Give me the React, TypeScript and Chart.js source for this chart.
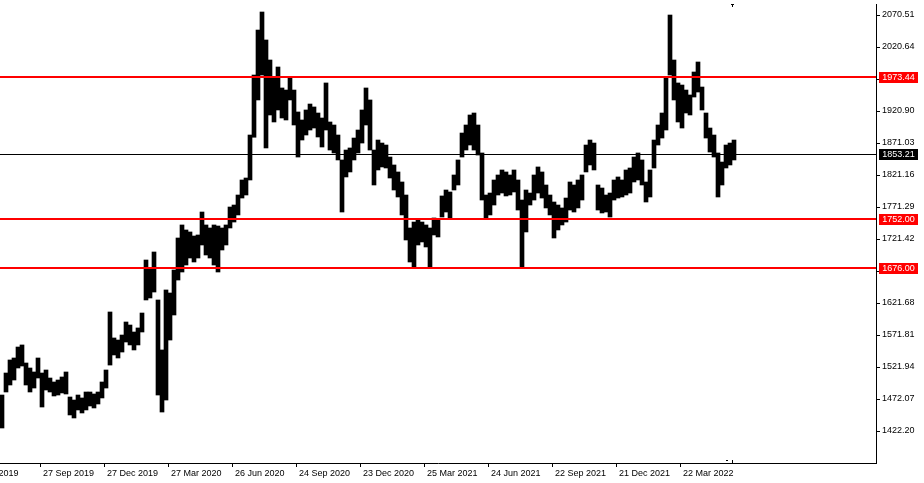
import React, { useEffect, useRef } from "react";
import { Chart, registerables } from "chart.js";

Chart.register(...registerables);

// Price bars (4 trading days per bar)
const barHigh = [
  1478.3, 1512.6, 1532.9, 1536.0, 1553.1, 1556.3, 1528.2, 1520.4, 1514.2, 1536.0,
  1512.6, 1517.3, 1504.8, 1498.6, 1501.7, 1506.4, 1514.2, 1475.2, 1470.5, 1478.3,
  1473.7, 1483.0, 1483.0, 1479.9, 1483.0, 1498.6, 1517.3, 1607.7, 1567.2, 1564.0,
  1571.8, 1592.1, 1587.4, 1576.5, 1582.8, 1606.1, 1688.7, 1676.3, 1701.2, 1626.4,
  1548.5, 1642.0, 1637.3, 1673.1, 1723.0, 1743.3, 1735.5, 1732.4, 1726.1, 1727.7,
  1763.5, 1743.3, 1738.6, 1743.3, 1741.7, 1738.6, 1743.3, 1771.3, 1774.4, 1790.0,
  1813.4, 1816.5, 1883.5, 1977.0, 2047.1, 2075.2, 2031.6, 2000.4, 1972.3, 1989.5,
  1956.8, 1953.6, 1972.3, 1953.6, 1919.4, 1906.9, 1922.5, 1931.8, 1927.2, 1917.8,
  1910.0, 1964.6, 1903.8, 1899.1, 1883.5, 1844.6, 1860.1, 1863.3, 1878.8, 1891.3,
  1922.5, 1956.8, 1938.1, 1860.1, 1875.7, 1871.0, 1867.9, 1849.2, 1836.8, 1825.9,
  1810.3, 1790.0, 1738.6, 1747.9, 1751.1, 1747.9, 1743.3, 1738.6, 1754.2, 1751.1,
  1788.5, 1797.8, 1794.7, 1821.2, 1844.6, 1886.6, 1899.1, 1914.7, 1917.8, 1899.1,
  1855.5, 1790.0, 1793.1, 1813.4, 1821.2, 1829.0, 1825.9, 1821.2, 1829.0, 1813.4,
  1782.2, 1797.8, 1793.1, 1821.2, 1833.7, 1825.9, 1805.6, 1790.0, 1779.1, 1774.4,
  1769.8, 1785.3, 1810.3, 1805.6, 1813.4, 1821.2, 1867.9, 1875.7, 1871.0, 1805.6,
  1800.9, 1790.0, 1793.1, 1813.4, 1818.1, 1813.4, 1829.0, 1832.1, 1849.2, 1855.5,
  1844.6, 1810.3, 1829.0, 1875.7, 1899.1, 1917.8, 1973.9, 2070.5, 2000.4, 1964.6,
  1961.4, 1953.6, 1945.9, 1981.7, 1997.3, 1958.3, 1917.8, 1894.4, 1883.5, 1855.5,
  1841.4, 1867.9, 1871.0, 1875.7,
];
const barLow = [
  1426.9, 1483.0, 1493.9, 1501.7, 1520.4, 1523.5, 1493.9, 1483.0, 1489.2, 1504.8,
  1459.6, 1486.1, 1483.0, 1476.8, 1478.3, 1481.5, 1479.9, 1447.2, 1442.5, 1455.0,
  1450.3, 1455.0, 1461.2, 1458.1, 1464.3, 1473.7, 1489.2, 1525.0, 1540.7, 1536.0,
  1545.3, 1560.9, 1556.3, 1548.5, 1556.3, 1576.5, 1626.4, 1629.5, 1638.8, 1478.3,
  1451.8, 1470.5, 1564.0, 1603.0, 1657.5, 1670.0, 1680.9, 1691.8, 1685.6, 1691.8,
  1712.1, 1696.5, 1691.8, 1680.9, 1670.0, 1704.3, 1712.1, 1738.6, 1747.9, 1758.9,
  1785.3, 1790.0, 1813.4, 1880.0, 1938.1, 1977.0, 1863.3, 1914.7, 1903.8, 1922.5,
  1910.0, 1906.9, 1938.1, 1899.1, 1849.2, 1875.7, 1883.5, 1891.3, 1894.4, 1880.4,
  1864.8, 1891.3, 1860.1, 1855.5, 1844.6, 1763.5, 1818.1, 1825.9, 1844.6, 1855.5,
  1871.0, 1899.1, 1860.1, 1805.6, 1829.0, 1833.7, 1832.1, 1816.5, 1797.8, 1786.9,
  1758.9, 1719.9, 1685.6, 1677.8, 1712.1, 1716.8, 1709.0, 1677.8, 1727.7, 1724.6,
  1755.7, 1763.5, 1754.2, 1797.8, 1805.6, 1849.2, 1860.1, 1867.9, 1860.1, 1852.3,
  1782.2, 1754.2, 1758.9, 1774.4, 1790.0, 1793.1, 1788.5, 1790.0, 1794.7, 1766.6,
  1677.8, 1732.4, 1774.4, 1782.2, 1793.1, 1785.3, 1769.8, 1758.9, 1723.0, 1735.5,
  1743.3, 1747.9, 1766.6, 1763.5, 1769.8, 1782.2, 1825.9, 1836.8, 1829.0, 1766.6,
  1762.0, 1763.5, 1755.7, 1782.2, 1785.3, 1786.9, 1790.0, 1793.1, 1810.3, 1813.4,
  1805.6, 1779.1, 1786.9, 1832.1, 1867.9, 1878.8, 1891.3, 1977.0, 1938.1, 1903.8,
  1894.4, 1917.8, 1914.7, 1942.7, 1950.5, 1922.5, 1878.8, 1857.0, 1849.2, 1786.9,
  1805.6, 1832.1, 1836.8, 1844.6,
];
const DAYS_PER_BAR = 4;

// Time axis (bar index of each label) and its labels
const dateTickIndex = [-34, 40, 104, 168, 232, 296, 360, 424, 488, 552, 616, 680];
const dateTickLabels = [
  "28 Jun 2019", "27 Sep 2019", "27 Dec 2019", "27 Mar 2020", "26 Jun 2020",
  "24 Sep 2020", "23 Dec 2020", "25 Mar 2021", "24 Jun 2021", "22 Sep 2021",
  "21 Dec 2021", "22 Mar 2022",
];
const dayRange = [0, 876];

// Price axis
const priceTicks = [
  1422.2, 1472.07, 1521.94, 1571.81, 1621.68, 1671.55, 1721.42, 1771.29,
  1821.16, 1871.03, 1920.9, 1970.77, 2020.64, 2070.51,
];
const priceRange = [1372.35, 2087.67];

// Horizontal levels
const redLevels = [1973.44, 1752.0, 1676.0];
const currentPrice = 1853.21;

const FONT = '"Liberation Sans", Arial, sans-serif';

const levelsPlugin = {
  id: "levels",
  afterDatasetsDraw(chart: any) {
    const { ctx, chartArea, scales } = chart;
    const y = scales.y;
    ctx.save();
    ctx.beginPath();
    ctx.rect(chartArea.left, chartArea.top, chartArea.right - chartArea.left, chartArea.bottom - chartArea.top);
    ctx.clip();
    const cy = Math.round(y.getPixelForValue(currentPrice)) + 0.5;
    ctx.strokeStyle = "#000000";
    ctx.lineWidth = 1;
    ctx.beginPath();
    ctx.moveTo(chartArea.left, cy);
    ctx.lineTo(chartArea.right, cy);
    ctx.stroke();
    ctx.strokeStyle = "#ff0000";
    ctx.lineWidth = 2;
    redLevels.forEach((lv) => {
      const py = Math.round(y.getPixelForValue(lv));
      ctx.beginPath();
      ctx.moveTo(chartArea.left, py);
      ctx.lineTo(chartArea.right, py);
      ctx.stroke();
    });
    const lastX = Math.round(scales.x.getPixelForValue((barHigh.length - 1) * DAYS_PER_BAR + 1));
    ctx.fillStyle = "#000";
    ctx.fillRect(lastX - 2, chartArea.top, 3, 1);
    ctx.fillRect(lastX - 1, chartArea.top, 1, 3);
    ctx.fillRect(lastX - 7, chartArea.bottom - 3, 2, 1);
    ctx.fillRect(lastX - 1, chartArea.bottom - 3, 1, 3);
    ctx.restore();
  },
  afterDraw(chart: any) {
    const { ctx, chartArea, scales } = chart;
    const y = scales.y;
    ctx.save();
    ctx.font = `9px ${FONT}`;
    ctx.textAlign = "center";
    ctx.textBaseline = "middle";
    const box = (value: number, color: string) => {
      const py = Math.round(y.getPixelForValue(value));
      const bx = chartArea.right + 3;
      ctx.fillStyle = color;
      ctx.fillRect(bx, py - 5, 39, 11);
      ctx.fillStyle = "#ffffff";
      ctx.fillText(value.toFixed(2), bx + 19.5, py + 0.5);
    };
    redLevels.forEach((lv) => box(lv, "#ff0000"));
    box(currentPrice, "#000000");
    ctx.restore();
  },
};

export default function App() {
  const ref = useRef<HTMLCanvasElement | null>(null);
  useEffect(() => {
    if (!ref.current) return;
    const data = barHigh.map((h, i) => ({ x: i * DAYS_PER_BAR + DAYS_PER_BAR / 2, y: [barLow[i], h] }));
    const chart = new Chart(ref.current, {
      type: "bar",
      data: {
        datasets: [
          {
            data: data as any,
            backgroundColor: "#000000",
            borderWidth: 0,
            barThickness: DAYS_PER_BAR,
            grouped: false,
          } as any,
        ],
      },
      options: {
        animation: false,
        responsive: false,
        events: [],
        layout: { padding: { top: 4, left: 0, right: 0, bottom: 0 } },
        plugins: { legend: { display: false }, tooltip: { enabled: false } },
        scales: {
          x: {
            type: "linear",
            position: "bottom",
            min: dayRange[0],
            max: dayRange[1],
            offset: false,
            grid: { display: true, offset: false, drawOnChartArea: false, drawTicks: true, tickLength: 4, color: "#000000", lineWidth: 1 },
            border: { display: true, color: "#000000", width: 1 },
            ticks: {
              autoSkip: false,
              maxRotation: 0,
              minRotation: 0,
              align: "start",
              labelOffset: 3,
              padding: 1,
              color: "#000000",
              font: { family: FONT, size: 9 },
              callback: (_v: any, i: number) => dateTickLabels[i] ?? "",
            },
            afterBuildTicks: (s: any) => {
              s.ticks = dateTickIndex.map((v) => ({ value: v }));
            },
            afterFit: (s: any) => {
              s.height = 20;
              s.paddingLeft = 0;
              s.paddingRight = 0;
            },
          } as any,
          y: {
            type: "linear",
            position: "right",
            min: priceRange[0],
            max: priceRange[1],
            beginAtZero: false,
            grid: { display: true, drawOnChartArea: false, drawTicks: true, tickLength: 4, color: "#000000", lineWidth: 1 },
            border: { display: true, color: "#000000", width: 1 },
            ticks: {
              autoSkip: false,
              padding: 2,
              color: "#000000",
              font: { family: FONT, size: 9 },
              callback: (v: any) => Number(v).toFixed(2),
            },
            afterBuildTicks: (s: any) => {
              s.ticks = priceTicks.map((v) => ({ value: v }));
            },
            afterFit: (s: any) => {
              s.width = 48;
              s.paddingTop = 0;
              s.paddingBottom = 0;
            },
          } as any,
        },
      },
      plugins: [levelsPlugin],
    });
    return () => chart.destroy();
  }, []);
  return (
    <div style={{ position: "fixed", left: 0, top: 0, width: 924, height: 483, background: "#ffffff" }}>
      <canvas ref={ref} width={924} height={483} style={{ display: "block", width: 924, height: 483 }} />
    </div>
  );
}
